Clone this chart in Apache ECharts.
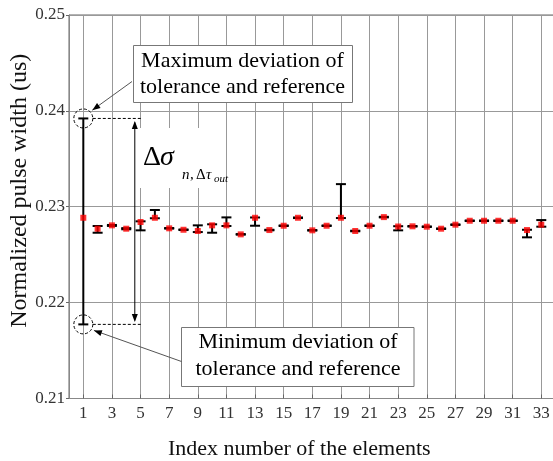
<!DOCTYPE html>
<html>
<head>
<meta charset="utf-8">
<script src="https://cdn.jsdelivr.net/npm/echarts@6/dist/echarts.min.js"></script>
<style>
  html, body { margin: 0; padding: 0; background: #fff; }
  #chart { width: 553px; height: 461px; }
</style>
</head>
<body>
<div id="chart"></div>
<script>
// Category slots along the x axis (0 and 34 are empty padding slots)
const indexCategories = ['0', '1', '2', '3', '4', '5', '6', '7', '8', '9', '10', '11', '12',
  '13', '14', '15', '16', '17', '18', '19', '20', '21', '22', '23', '24', '25', '26', '27',
  '28', '29', '30', '31', '32', '33', '34'];

// Element index of each measurement
const elementIndex = [1, 2, 3, 4, 5, 6, 7, 8, 9, 10, 11, 12, 13, 14, 15, 16, 17,
  18, 19, 20, 21, 22, 23, 24, 25, 26, 27, 28, 29, 30, 31, 32, 33];

// Normalized pulse width (us): reference value of each element
const pulseMean = [0.22885, 0.22771, 0.22806, 0.22771, 0.22841, 0.22885, 0.22775, 0.22760,
  0.22747, 0.22806, 0.22806, 0.22712, 0.22885, 0.22757, 0.22802, 0.22885, 0.22754,
  0.22802, 0.22885, 0.22747, 0.22802, 0.22892, 0.22794, 0.22796, 0.22792, 0.22771,
  0.22813, 0.22854, 0.22854, 0.22854, 0.22854, 0.22757, 0.22813];

// Lower end of the tolerance band
const pulseLow = [0.21773, 0.22729, 0.22800, 0.22765, 0.22754, 0.22880, 0.22772, 0.22757,
  0.22736, 0.22729, 0.22799, 0.22709, 0.22802, 0.22754, 0.22799, 0.22882, 0.22751,
  0.22799, 0.22882, 0.22744, 0.22799, 0.22889, 0.22754, 0.22793, 0.22789, 0.22768,
  0.22810, 0.22851, 0.22851, 0.22851, 0.22851, 0.22681, 0.22792];

// Upper end of the tolerance band
const pulseHigh = [0.23921, 0.22799, 0.22810, 0.22777, 0.22848, 0.22966, 0.22778, 0.22763,
  0.22806, 0.22817, 0.22889, 0.22715, 0.22888, 0.22760, 0.22805, 0.22888, 0.22757,
  0.22805, 0.23236, 0.22750, 0.22805, 0.22895, 0.22797, 0.22799, 0.22795, 0.22774,
  0.22816, 0.22857, 0.22857, 0.22857, 0.22857, 0.22760, 0.22861];

const yMin = 0.21, yMax = 0.25, yStep = 0.01;

const SERIF = "'Liberation Serif', 'DejaVu Serif', serif";
const isOdd = (i) => i % 2 === 1;

const chart = echarts.init(document.getElementById('chart'), null, { renderer: 'canvas' });

const errorData = elementIndex.map((x, i) => [x, pulseLow[i], pulseHigh[i]]);
const meanData = elementIndex.map((x, i) => [x, pulseMean[i]]);

const option = {
  animation: false,
  backgroundColor: '#fff',
  grid: {
    left: 69, top: 15, width: 486.6, height: 383.5,
    outerBoundsMode: 'none', containLabel: false,
    show: true, borderColor: '#666', borderWidth: 1, backgroundColor: 'transparent'
  },
  xAxis: {
    type: 'category',
    data: indexCategories,
    boundaryGap: false,
    name: 'Index number of the elements',
    nameLocation: 'middle',
    nameGap: 40,
    nameMoveOverlap: false,
    nameTextStyle: { fontFamily: SERIF, fontSize: 22, color: '#111', padding: [0, 26, 0, 0] },
    axisLine: { lineStyle: { color: '#888', width: 1 } },
    axisTick: { show: true, inside: true, length: 4, interval: isOdd, lineStyle: { color: '#666' } },
    axisLabel: { interval: isOdd, fontFamily: SERIF, fontSize: 17, color: '#333', margin: 7 },
    splitLine: { show: true, interval: isOdd, lineStyle: { color: '#999', width: 1 } }
  },
  yAxis: {
    type: 'value',
    min: yMin, max: yMax, interval: yStep,
    name: 'Normalized pulse width (us)',
    nameLocation: 'middle',
    nameGap: 37,
    nameMoveOverlap: false,
    nameTextStyle: { fontFamily: SERIF, fontSize: 24, color: '#111', padding: [0, 0, 0, 32] },
    axisLine: { show: true, lineStyle: { color: '#888', width: 1 } },
    axisTick: { show: true, inside: false, length: 3, lineStyle: { color: '#666' } },
    axisLabel: {
      fontFamily: SERIF, fontSize: 17, color: '#333', margin: 4,
      formatter: (v) => v.toFixed(2)
    },
    splitLine: { show: true, lineStyle: { color: '#999', width: 1 } }
  },
  series: [
    {
      // tolerance bars with caps
      type: 'custom',
      name: 'tolerance',
      data: errorData,
      z: 3,
      renderItem: (params, api) => {
        const x = api.value(0);
        const lo = api.coord([x, api.value(1)]);
        const hi = api.coord([x, api.value(2)]);
        const w = 5;
        const s = { stroke: '#000', lineWidth: 2 };
        return {
          type: 'group',
          children: [
            { type: 'line', shape: { x1: lo[0], y1: lo[1], x2: hi[0], y2: hi[1] }, style: s },
            { type: 'line', shape: { x1: lo[0] - w, y1: lo[1], x2: lo[0] + w, y2: lo[1] }, style: s },
            { type: 'line', shape: { x1: hi[0] - w, y1: hi[1], x2: hi[0] + w, y2: hi[1] }, style: s }
          ]
        };
      }
    },
    {
      type: 'scatter',
      name: 'reference',
      data: meanData,
      z: 4,
      symbol: 'rect',
      symbolSize: 6,
      itemStyle: { color: '#ff0000' }
    }
  ]
};

chart.setOption(option);

// ---- annotations anchored to element 1's tolerance band ----
const toPx = (idx, v) => chart.convertToPixel({ gridIndex: 0 }, [idx, v]);
const pTop = toPx(elementIndex[0], pulseHigh[0]);
const pBot = toPx(elementIndex[0], pulseLow[0]);

function arrowHead(tipX, tipY, fromX, fromY, len, half) {
  const dx = tipX - fromX, dy = tipY - fromY;
  const d = Math.hypot(dx, dy);
  const ux = dx / d, uy = dy / d;
  const bx = tipX - ux * len, by = tipY - uy * len;
  return {
    type: 'polygon', z: 120,
    shape: { points: [[tipX, tipY], [bx - uy * half, by + ux * half], [bx + uy * half, by - ux * half]] },
    style: { fill: '#000' }
  };
}

function arrow(fromX, fromY, tipX, tipY, color) {
  return [
    { type: 'line', z: 119, shape: { x1: fromX, y1: fromY, x2: tipX, y2: tipY },
      style: { stroke: color, lineWidth: 1 } },
    arrowHead(tipX, tipY, fromX, fromY, 8, 3)
  ];
}

const circR = 9.5;
const dashEnd = pTop[0] + 59;
const spanX = pTop[0] + 51.5;

const textBase = { fontFamily: SERIF, fontSize: 22, fill: '#000' };

const graphics = [
  // upper note
  { type: 'rect', z: 110, shape: { x: 133.5, y: 45.5, width: 219, height: 57 },
    style: { fill: '#fff', stroke: '#777', lineWidth: 1 } },
  { type: 'text', z: 111, style: Object.assign({ text: 'Maximum deviation of', x: 242.5, y: 61, align: 'center', verticalAlign: 'middle' }, textBase) },
  { type: 'text', z: 111, style: Object.assign({ text: 'tolerance and reference', x: 242.5, y: 87.5, align: 'center', verticalAlign: 'middle' }, textBase) },
  // lower note
  { type: 'rect', z: 110, shape: { x: 181.5, y: 327.5, width: 232.5, height: 59 },
    style: { fill: '#fff', stroke: '#777', lineWidth: 1 } },
  { type: 'text', z: 111, style: Object.assign({ text: 'Minimum deviation of', x: 298, y: 342, align: 'center', verticalAlign: 'middle' }, textBase) },
  { type: 'text', z: 111, style: Object.assign({ text: 'tolerance and reference', x: 298, y: 369, align: 'center', verticalAlign: 'middle' }, textBase) },
  // dashed circles around the extremes
  { type: 'circle', z: 115, shape: { cx: pTop[0], cy: pTop[1], r: circR },
    style: { fill: null, stroke: '#000', lineWidth: 1, lineDash: [3, 2] } },
  { type: 'circle', z: 115, shape: { cx: pBot[0], cy: pBot[1], r: circR },
    style: { fill: null, stroke: '#000', lineWidth: 1, lineDash: [3, 2] } },
  // dashed level lines
  { type: 'line', z: 115, shape: { x1: pTop[0] + circR, y1: pTop[1], x2: dashEnd, y2: pTop[1] },
    style: { stroke: '#000', lineWidth: 1, lineDash: [3, 2] } },
  { type: 'line', z: 115, shape: { x1: pBot[0] + circR, y1: pBot[1], x2: dashEnd, y2: pBot[1] },
    style: { stroke: '#000', lineWidth: 1, lineDash: [3, 2] } },
  // white patch behind the span label
  { type: 'rect', z: 105, shape: { x: 138, y: 128, width: 78, height: 60 },
    style: { fill: '#fff' } },
  // span label
  { type: 'text', z: 112, style: { text: 'Δ', x: 143, y: 158, verticalAlign: 'middle', fontFamily: SERIF, fontSize: 28, fill: '#000' } },
  { type: 'text', z: 112, style: { text: 'σ', x: 160, y: 158, verticalAlign: 'middle', fontFamily: SERIF, fontSize: 28, fontStyle: 'italic', fill: '#000' } },
  { type: 'text', z: 112, style: { text: 'n', x: 182, y: 175, verticalAlign: 'middle', fontFamily: SERIF, fontSize: 15, fontStyle: 'italic', fill: '#000' } },
  { type: 'text', z: 112, style: { text: ',', x: 190, y: 175, verticalAlign: 'middle', fontFamily: SERIF, fontSize: 15, fill: '#000' } },
  { type: 'text', z: 112, style: { text: 'Δ', x: 196, y: 175, verticalAlign: 'middle', fontFamily: SERIF, fontSize: 15, fill: '#000' } },
  { type: 'text', z: 112, style: { text: 'τ', x: 206, y: 175, verticalAlign: 'middle', fontFamily: SERIF, fontSize: 15, fontStyle: 'italic', fill: '#000' } },
  { type: 'text', z: 112, style: { text: 'out', x: 214, y: 179.5, verticalAlign: 'middle', fontFamily: SERIF, fontSize: 11, fontStyle: 'italic', fill: '#000' } }
]
  // double arrow spanning the deviation
  .concat([
    { type: 'line', z: 119, shape: { x1: spanX, y1: pTop[1] + 4, x2: spanX, y2: pBot[1] - 4 },
      style: { stroke: '#000', lineWidth: 1 } },
    arrowHead(spanX, pTop[1] + 2.5, spanX, pTop[1] + 20, 8, 3),
    arrowHead(spanX, pBot[1] - 2.5, spanX, pBot[1] - 20, 8, 3)
  ])
  // pointers from the notes to the circles
  .concat(arrow(132, 81.5, pTop[0] + 9, pTop[1] - 8.3, '#555'))
  .concat(arrow(181.5, 361.5, pBot[0] + 10.6, pBot[1] + 6, '#555'));

chart.setOption({ graphic: { elements: graphics } });
</script>
</body>
</html>
